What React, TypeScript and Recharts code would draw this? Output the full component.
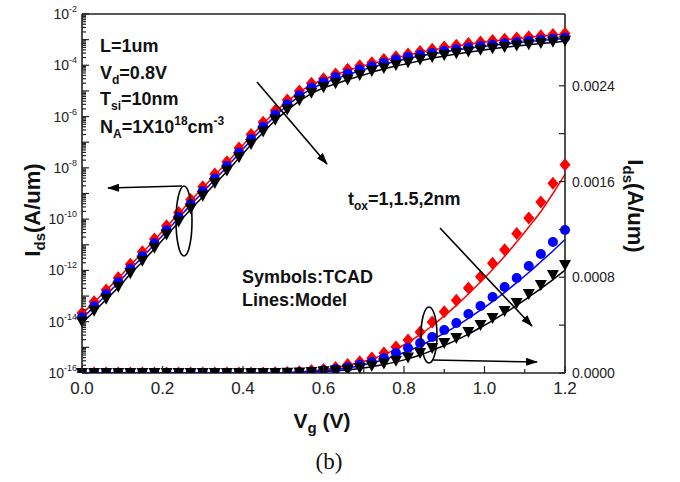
import React from 'react'
import { ComposedChart, Line, XAxis, YAxis, ReferenceLine } from 'recharts'

// gate voltage sweep (V)
const vg = [
  0.0, 0.03, 0.06, 0.09, 0.12, 0.15, 0.18, 0.21, 0.24, 0.27, 0.3, 0.33, 0.36, 0.39,
  0.42, 0.45, 0.48, 0.51, 0.54, 0.57, 0.6, 0.63, 0.66, 0.69, 0.72, 0.75, 0.78, 0.81,
  0.84, 0.87, 0.9, 0.93, 0.96, 0.99, 1.02, 1.05, 1.08, 1.11, 1.14, 1.17, 1.2,
]

// TCAD symbols, Ids (A/um), tox = 1 / 1.5 / 2 nm
const redTcad = [
  2.2e-14, 6.0e-14, 1.74e-13, 5.2e-13, 1.74e-12, 5.4e-12, 1.7e-11, 5.5e-11, 1.82e-10, 5.9e-10,
  1.82e-9, 5.75e-9, 1.74e-8, 6.0e-8, 2.0e-7, 6.0e-7, 1.74e-6, 4.4e-6, 1.0e-5, 2.0e-5,
  3.0e-5, 4.6e-5, 7.0e-5, 9.5e-5, 1.26e-4, 1.67e-4, 2.17e-4, 2.76e-4, 3.43e-4, 4.26e-4,
  5.12e-4, 6.08e-4, 7.1e-4, 8.05e-4, 9.18e-4, 1.03e-3, 1.165e-3, 1.295e-3, 1.43e-3, 1.585e-3,
  1.74e-3,
]
const blueTcad = [
  1.5e-14, 4.0e-14, 1.18e-13, 3.5e-13, 1.17e-12, 3.6e-12, 1.14e-11, 3.7e-11, 1.22e-10, 3.9e-10,
  1.22e-9, 3.85e-9, 1.17e-8, 4.0e-8, 1.34e-7, 4.0e-7, 1.17e-6, 3.0e-6, 6.8e-6, 1.35e-5,
  2.2e-5, 3.4e-5, 4.8e-5, 6.8e-5, 9.2e-5, 1.25e-4, 1.67e-4, 2.09e-4, 2.51e-4, 3.01e-4,
  3.59e-4, 4.18e-4, 4.93e-4, 5.6e-4, 6.35e-4, 7.19e-4, 7.94e-4, 8.94e-4, 9.94e-4, 1.095e-3,
  1.195e-3,
]
const blackTcad = [
  1.0e-14, 2.7e-14, 7.9e-14, 2.3e-13, 7.8e-13, 2.4e-12, 7.6e-12, 2.5e-11, 8.1e-11, 2.6e-10,
  8.1e-10, 2.55e-9, 7.8e-9, 2.6e-8, 8.6e-8, 2.6e-7, 7.6e-7, 1.9e-6, 4.3e-6, 8.5e-6,
  1.4e-5, 2.0e-5, 2.8e-5, 4.2e-5, 6.0e-5, 7.9e-5, 1.02e-4, 1.3e-4, 1.67e-4, 2.09e-4,
  2.51e-4, 2.92e-4, 3.43e-4, 4.01e-4, 4.6e-4, 5.18e-4, 5.85e-4, 6.6e-4, 7.35e-4, 8.19e-4,
  9.03e-4,
]

// compact model lines
const redModel = [
  2.0e-14, 5.8e-14, 1.68e-13, 4.9e-13, 1.6e-12, 4.9e-12, 1.55e-11, 5.0e-11, 1.62e-10, 5.3e-10,
  1.65e-9, 5.2e-9, 1.6e-8, 5.2e-8, 1.7e-7, 5.2e-7, 1.5e-6, 3.9e-6, 8.8e-6, 1.75e-5,
  2.8e-5, 4.3e-5, 6.3e-5, 8.7e-5, 1.17e-4, 1.54e-4, 2.0e-4, 2.55e-4, 3.2e-4, 3.95e-4,
  4.77e-4, 5.65e-4, 6.6e-4, 7.6e-4, 8.65e-4, 9.75e-4, 1.095e-3, 1.22e-3, 1.35e-3, 1.5e-3,
  1.66e-3,
]
const blueModel = [
  1.35e-14, 3.8e-14, 1.1e-13, 3.3e-13, 1.08e-12, 3.3e-12, 1.05e-11, 3.4e-11, 1.1e-10, 3.6e-10,
  1.12e-9, 3.5e-9, 1.08e-8, 3.6e-8, 1.2e-7, 3.6e-7, 1.05e-6, 2.7e-6, 6.1e-6, 1.2e-5,
  2.0e-5, 2.9e-5, 4.3e-5, 6.1e-5, 8.3e-5, 1.1e-4, 1.45e-4, 1.84e-4, 2.28e-4, 2.78e-4,
  3.33e-4, 3.92e-4, 4.57e-4, 5.25e-4, 5.97e-4, 6.74e-4, 7.55e-4, 8.4e-4, 9.3e-4, 1.02e-3,
  1.115e-3,
]
const blackModel = [
  9.0e-15, 2.5e-14, 7.3e-14, 2.15e-13, 7.2e-13, 2.2e-12, 7.0e-12, 2.3e-11, 7.4e-11, 2.4e-10,
  7.5e-10, 2.35e-9, 7.2e-9, 2.4e-8, 7.9e-8, 2.4e-7, 7.0e-7, 1.75e-6, 4.0e-6, 7.9e-6,
  1.3e-5, 1.9e-5, 2.7e-5, 3.8e-5, 5.3e-5, 7.1e-5, 9.3e-5, 1.18e-4, 1.5e-4, 1.89e-4,
  2.3e-4, 2.75e-4, 3.25e-4, 3.8e-4, 4.38e-4, 5.0e-4, 5.65e-4, 6.35e-4, 7.05e-4, 7.8e-4,
  8.6e-4,
]

const xTicks = [0, 0.1, 0.2, 0.3, 0.4, 0.5, 0.6, 0.7, 0.8, 0.9, 1.0, 1.1, 1.2]
const decades = [
  1e-16, 1e-15, 1e-14, 1e-13, 1e-12, 1e-11, 1e-10, 1e-9, 1e-8, 1e-7, 1e-6, 1e-5, 1e-4, 1e-3, 1e-2,
]
const linTicks = [0, 0.0004, 0.0008, 0.0012, 0.0016, 0.002, 0.0024, 0.0028]

const logTicks: number[] = []
decades.forEach((d, i) => {
  logTicks.push(d)
  if (i < decades.length - 1) for (let m = 2; m <= 9; m++) logTicks.push(d * m)
})

const data = vg.map((v, i) => ({
  vg: v,
  redT: redTcad[i],
  blueT: blueTcad[i],
  blackT: blackTcad[i],
  redM: redModel[i],
  blueM: blueModel[i],
  blackM: blackModel[i],
}))

const SANS = 'Liberation Sans, Arial, sans-serif'
const RED = '#ff0000'
const BLUE = '#0000ff'
const BLACK = '#000000'

const diamond = (color: string) => (p: any) => (
  <path
    key={`d-${p.index}`}
    d={`M${p.cx},${p.cy - 6.5} L${p.cx + 5.5},${p.cy} L${p.cx},${p.cy + 6.5} L${p.cx - 5.5},${p.cy} Z`}
    fill={color}
  />
)
const circle = (color: string) => (p: any) => (
  <circle key={`c-${p.index}`} cx={p.cx} cy={p.cy} r={5} fill={color} />
)
const triDown = (color: string) => (p: any) => (
  <path
    key={`t-${p.index}`}
    d={`M${p.cx - 6},${p.cy - 5} L${p.cx + 6},${p.cy - 5} L${p.cx},${p.cy + 6} Z`}
    fill={color}
  />
)

const LogTick = (props: any) => {
  const { x, y, payload } = props
  const lg = Math.log10(payload.value)
  const e = Math.round(lg)
  const major = Math.abs(lg - e) < 1e-6
  return (
    <g>
      <line x1={x} x2={x + (major ? 7 : 4)} y1={y} y2={y} stroke="#222" strokeWidth={1.2} />
      {major && e % 2 === 0 && (
        <text x={x - 5} y={y + 5} textAnchor="end" fontSize={14} fill="#222" fontFamily={SANS}>
          10
          <tspan dy={-7} fontSize={9}>
            {e}
          </tspan>
        </text>
      )}
    </g>
  )
}

const LinTick = (props: any) => {
  const { x, y, payload } = props
  const v = payload.value
  const labeled = Math.round(v / 0.0004) % 2 === 0
  return (
    <g>
      <line x1={x} x2={x - 6} y1={y} y2={y} stroke="#222" strokeWidth={1.2} />
      {labeled && (
        <text x={x + 7} y={y + 5} fontSize={14} fill="#222" fontFamily={SANS}>
          {v.toFixed(4)}
        </text>
      )}
    </g>
  )
}

const XTick = (props: any) => {
  const { x, y, payload } = props
  const v = payload.value
  const labeled = Math.round(v * 10) % 2 === 0
  return (
    <g>
      <line x1={x} x2={x} y1={y} y2={y - (labeled ? 7 : 4)} stroke="#222" strokeWidth={1.2} />
      {labeled && (
        <text x={x} y={y + 21} textAnchor="middle" fontSize={17} fill="#222" fontFamily={SANS}>
          {v.toFixed(1)}
        </text>
      )}
    </g>
  )
}

function Arrow({ x1, y1, x2, y2 }: { x1: number; y1: number; x2: number; y2: number }) {
  return <line x1={x1} y1={y1} x2={x2} y2={y2} stroke="#000" strokeWidth={1.6} markerEnd="url(#ah)" />
}

function Annotations() {
  return (
    <svg
      width={680}
      height={482}
      style={{ position: 'absolute', left: 0, top: 0, pointerEvents: 'none' }}
      fontFamily={SANS}
    >
      <defs>
        <marker id="ah" markerWidth="12" markerHeight="8" refX="11" refY="4" orient="auto" markerUnits="userSpaceOnUse">
          <path d="M0,0 L12,4 L0,8 Z" fill="#000" />
        </marker>
      </defs>
      <g fontWeight="bold" fontSize={18} fill="#111">
        <text x={100} y={52}>L=1um</text>
        <text x={100} y={79}>
          V<tspan dy={5} fontSize={12}>d</tspan>
          <tspan dy={-5}>=0.8V</tspan>
        </text>
        <text x={100} y={105}>
          T<tspan dy={5} fontSize={12}>si</tspan>
          <tspan dy={-5}>=10nm</tspan>
        </text>
        <text x={100} y={133}>
          N<tspan dy={5} fontSize={12}>A</tspan>
          <tspan dy={-5}>=1X10</tspan>
          <tspan dy={-8} fontSize={12}>18</tspan>
          <tspan dy={8}>cm</tspan>
          <tspan dy={-8} fontSize={12}>-3</tspan>
        </text>
        <text x={348} y={205}>
          t<tspan dy={5} fontSize={12}>ox</tspan>
          <tspan dy={-5}>=1,1.5,2nm</tspan>
        </text>
        <text x={242} y={283}>Symbols:TCAD</text>
        <text x={242} y={306}>Lines:Model</text>
      </g>

      <ellipse cx={184} cy={221} rx={8} ry={35} fill="none" stroke="#000" strokeWidth={1.6} />
      <Arrow x1={182} y1={186} x2={108} y2={188} />
      <Arrow x1={257} y1={82} x2={327} y2={164} />
      <ellipse cx={429} cy={335} rx={8} ry={28} fill="none" stroke="#000" strokeWidth={1.6} />
      <Arrow x1={432} y1={360} x2={537} y2={362} />
      <Arrow x1={440} y1={228} x2={532} y2={326} />

      <g fontWeight="bold" fontSize={22} fill="#111">
        <text transform="translate(40,210) rotate(-90)" textAnchor="middle">
          I<tspan dy={5} fontSize={15}>ds</tspan>
          <tspan dy={-5}>(A/um)</tspan>
        </text>
        <text transform="translate(628,206) rotate(90)" textAnchor="middle">
          I<tspan dy={5} fontSize={15}>ds</tspan>
          <tspan dy={-5}>(A/um)</tspan>
        </text>
        <text x={322} y={428} textAnchor="middle" fontSize={21}>
          V<tspan dy={5} fontSize={15}>g</tspan>
          <tspan dy={-5}> (V)</tspan>
        </text>
      </g>
      <text x={329} y={469} textAnchor="middle" fontSize={23} fontFamily="Liberation Serif, Times New Roman, serif" fill="#111">
        (b)
      </text>
    </svg>
  )
}

export default function App() {
  const axisLine = { stroke: '#222', strokeWidth: 1.6 }
  return (
    <div style={{ position: 'absolute', left: 0, top: 0, width: 680, height: 482, background: '#fff' }}>
      <ComposedChart width={680} height={482} data={data} margin={{ top: 14, right: 0, bottom: 79, left: 0 }}>
        <XAxis
          type="number"
          dataKey="vg"
          domain={[0, 1.2]}
          ticks={xTicks}
          interval={0}
          height={30}
          tickSize={0}
          tickMargin={0}
          tickLine={false}
          axisLine={axisLine}
          tick={<XTick />}
        />
        <YAxis
          yAxisId="log"
          orientation="left"
          scale="log"
          type="number"
          domain={[1e-16, 1e-2]}
          allowDataOverflow
          ticks={logTicks}
          interval={0}
          width={82}
          tickSize={0}
          tickMargin={0}
          tickLine={false}
          axisLine={axisLine}
          tick={<LogTick />}
        />
        <YAxis
          yAxisId="lin"
          orientation="right"
          type="number"
          domain={[0, 0.003]}
          allowDataOverflow
          ticks={linTicks}
          interval={0}
          width={115}
          tickSize={0}
          tickMargin={0}
          tickLine={false}
          axisLine={axisLine}
          tick={<LinTick />}
        />
        <ReferenceLine yAxisId="lin" y={0.003} stroke="#222" strokeWidth={1.6} />

        {/* log scale (left) */}
        <Line yAxisId="log" dataKey="redT" stroke="none" dot={diamond(RED)} activeDot={false} isAnimationActive={false} />
        <Line yAxisId="log" dataKey="blueT" stroke="none" dot={circle(BLUE)} activeDot={false} isAnimationActive={false} />
        <Line yAxisId="log" dataKey="blackT" stroke="none" dot={triDown(BLACK)} activeDot={false} isAnimationActive={false} />
        <Line yAxisId="log" type="monotone" dataKey="redM" stroke={RED} strokeWidth={1.5} dot={false} activeDot={false} isAnimationActive={false} />
        <Line yAxisId="log" type="monotone" dataKey="blueM" stroke={BLUE} strokeWidth={1.5} dot={false} activeDot={false} isAnimationActive={false} />
        <Line yAxisId="log" type="monotone" dataKey="blackM" stroke={BLACK} strokeWidth={1.5} dot={false} activeDot={false} isAnimationActive={false} />

        {/* linear scale (right) */}
        <Line yAxisId="lin" dataKey="redT" stroke="none" dot={diamond(RED)} activeDot={false} isAnimationActive={false} />
        <Line yAxisId="lin" dataKey="blueT" stroke="none" dot={circle(BLUE)} activeDot={false} isAnimationActive={false} />
        <Line yAxisId="lin" dataKey="blackT" stroke="none" dot={triDown(BLACK)} activeDot={false} isAnimationActive={false} />
        <Line yAxisId="lin" type="monotone" dataKey="redM" stroke={RED} strokeWidth={1.5} dot={false} activeDot={false} isAnimationActive={false} />
        <Line yAxisId="lin" type="monotone" dataKey="blueM" stroke={BLUE} strokeWidth={1.5} dot={false} activeDot={false} isAnimationActive={false} />
        <Line yAxisId="lin" type="monotone" dataKey="blackM" stroke={BLACK} strokeWidth={1.5} dot={false} activeDot={false} isAnimationActive={false} />
      </ComposedChart>
      <Annotations />
    </div>
  )
}
